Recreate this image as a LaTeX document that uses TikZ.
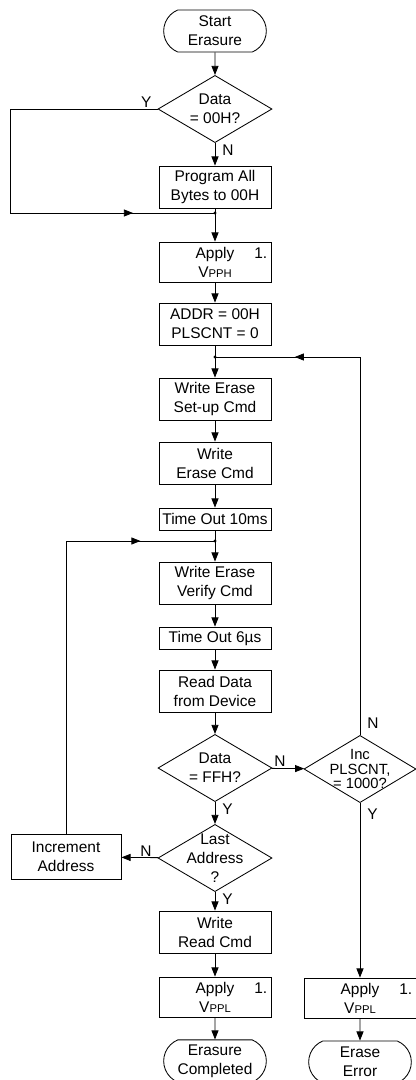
\documentclass[tikz,border=0pt]{standalone}
\usepackage{fontspec}
\setmainfont{Liberation Sans}
\usetikzlibrary{positioning,arrows.meta,shapes.geometric,shapes.misc,calc,decorations.markings}

\newcommand{\vsub}[1]{V{\fontsize{8}{8}\selectfont #1}}
\newcommand{\noteone}{\rlap{\hspace{0.5cm}1.}}

\begin{document}
\begin{tikzpicture}[
    x=0.025cm, y=-0.025cm,
    font=\fontsize{11}{13.5}\selectfont,
    line width=0.6pt,
    >={Triangle[length=6.5pt,width=5pt]},
    box/.style={draw, rectangle, minimum width=2.8cm, minimum height=1.05cm, align=center, inner sep=1pt},
    shortbox/.style={box, minimum height=0.55cm},
    decision/.style={draw, diamond, aspect=1.7, minimum width=2.85cm, minimum height=1.68cm, inner sep=-5pt, align=center},
    terminal/.style={draw, rounded rectangle, rounded rectangle arc length=135, minimum width=2.8cm, minimum height=1.05cm, align=center},
    flow/.style={->},
    midarrow/.style={postaction={decorate}, decoration={markings, mark=at position #1 with {\arrow{Triangle[length=6.5pt,width=5pt]}}}},
    yn/.style={inner sep=1pt}
]

    \useasboundingbox (0,0) rectangle (415,1080);

    % Main column: set-up part
    \node[terminal] (start) at (215,31) {Start\\Erasure};
    \node[decision] (d00) at (215,109) {Data\\= 00H?};
    \node[box] (prog) at (215,187) {Program All\\Bytes to 00H};
    \coordinate (j1) at (215,213);
    \node[box, minimum height=1cm] (vpph) at (215,262) {Apply\noteone\\\vsub{PPH}};
    \node[box] (addr) at (215,324) {ADDR = 00H\\PLSCNT = 0};
    \coordinate (j2) at (215,357);

    % Erase pulse and verify loop
    \node[box] (setup) at (215,399) {Write Erase\\Set-up Cmd};
    \node[box] (ecmd) at (215,463) {Write\\Erase Cmd};
    \node[shortbox] (t10) at (215,519) {Time Out 10ms};
    \coordinate (j3) at (215,541);
    \node[box] (verify) at (215,583) {Write Erase\\Verify Cmd};
    \node[shortbox] (t6) at (215,638) {Time Out 6µs};
    \node[box] (read) at (215,691) {Read Data\\from Device};
    \node[decision] (dff) at (215,768) {Data\\= FFH?};
    \node[decision, minimum width=2.8cm, font=\fontsize{10.5}{11.5}\selectfont] (inc) at (360,769) {Inc\\[-1pt]PLSCNT,\\[-1pt]= 1000?};
    \node[decision] (last) at (215,858) {Last\\Address\\?};
    \node[box, minimum width=2.75cm, minimum height=1.12cm] (incaddr) at (66,857) {Increment\\Address};

    % Exits
    \node[box] (rdcmd) at (215,932) {Write\\Read Cmd};
    \node[box, minimum height=1cm] (vppl) at (215,997) {Apply\noteone\\\vsub{PPL}};
    \node[terminal] (done) at (215,1061) {Erasure\\Completed};
    \node[box, minimum height=1cm] (vpplr) at (360,998) {Apply\noteone\\\vsub{PPL}};
    \node[terminal] (err) at (360,1062) {Erase\\Error};

    % Junction points
    \foreach \j in {j1,j2,j3}
        \fill (\j) circle[radius=1.2pt];

    % Connectors
    \draw[flow] (start) -- (d00);
    \draw[flow] (d00) -- (prog);
    \node[yn, anchor=north west, xshift=4pt] (n1) at (d00.south) {N};
    \draw (prog) -- (j1);
    \draw[flow] (j1) -- (vpph);
    \coordinate (ycorner) at (10,213);
    \draw (d00.west) -| (ycorner);
    \node[yn, anchor=south east, xshift=-3pt] (y1) at (d00.west) {Y};
    \draw[midarrow=0.6] (ycorner) -- (j1);
    \draw[flow] (vpph) -- (addr);
    \draw (addr) -- (j2);
    \draw[flow] (j2) -- (setup);
    \draw[flow] (setup) -- (ecmd);
    \draw[flow] (ecmd) -- (t10);
    \draw (t10) -- (j3);
    \draw[flow] (j3) -- (verify);
    \draw[flow] (verify) -- (t6);
    \draw[flow] (t6) -- (read);
    \draw[flow] (read) -- (dff);

    \draw[flow] (dff) -- (inc);
    \node[yn, anchor=south west] (n2) at (dff.east) {N};
    \draw[flow] (dff) -- (last);
    \node[yn, anchor=north west, xshift=4pt] (y2) at (dff.south) {Y};

    \draw[flow] (last) -- (incaddr);
    \node[yn, anchor=south east, xshift=-3pt] (n3) at (last.west) {N};
    \draw[flow] (last) -- (rdcmd);
    \node[yn, anchor=north west, xshift=4pt] (y3) at (last.south) {Y};
    \draw[flow] (rdcmd) -- (vppl);
    \draw[flow] (vppl) -- (done);

    % Back to next address
    \coordinate (lcorner) at (incaddr.north |- j3);
    \draw (incaddr) -- (lcorner);
    \draw[midarrow=0.5] (lcorner) -- (j3);

    % Retry pulse or give up
    \coordinate (rcorner) at (inc.north |- j2);
    \draw (inc) -- (rcorner);
    \node[yn, anchor=south west, xshift=4pt, yshift=3pt] (n4) at (inc.north) {N};
    \draw[midarrow=0.45] (rcorner) -- (j2);
    \draw[flow] (inc) -- (vpplr);
    \node[yn, anchor=north west, xshift=4pt, yshift=-3pt] (y4) at (inc.south) {Y};
    \draw[flow] (vpplr) -- (err);

\end{tikzpicture}
\end{document}
